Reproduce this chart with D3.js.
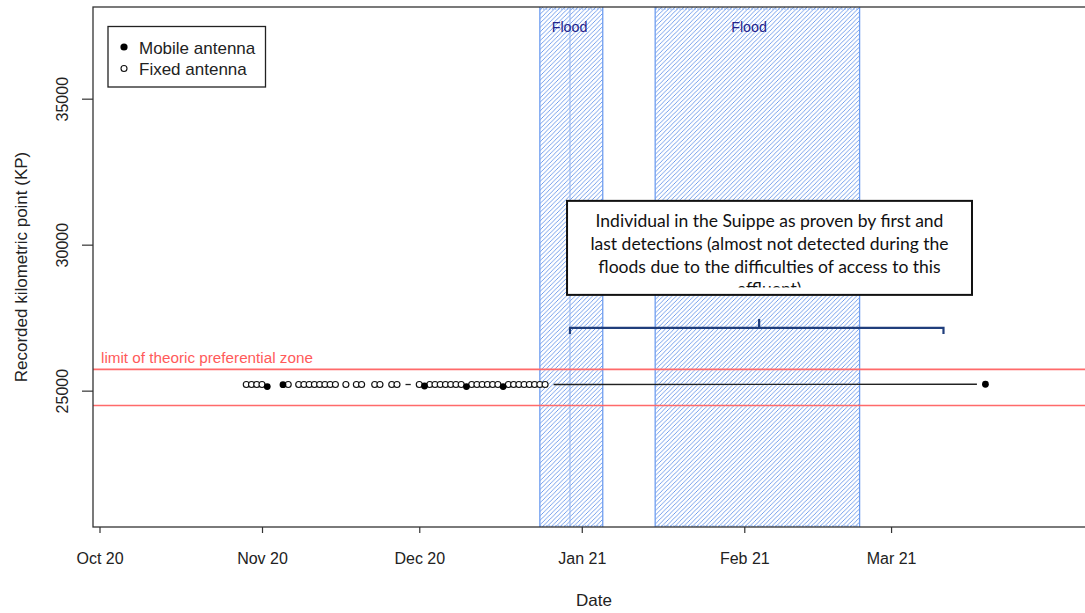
<!DOCTYPE html>
<html><head><meta charset="utf-8">
<script src="https://cdn.jsdelivr.net/npm/d3@7"></script>
<style>body{margin:0;background:#fff}svg{display:block}</style>
</head><body>
<svg id="c" width="1085" height="613"></svg>
<script>
// ---------------- data ----------------
const fixedDates = [
  "2020-10-29","2020-10-30","2020-10-31","2020-11-01",
  "2020-11-06",
  "2020-11-08","2020-11-09","2020-11-10","2020-11-11","2020-11-12","2020-11-13","2020-11-14","2020-11-15",
  "2020-11-17","2020-11-19","2020-11-20",
  "2020-11-22T12:00:00Z","2020-11-23T12:00:00Z","2020-11-25T18:00:00Z","2020-11-26T18:00:00Z",
  "2020-12-01",
  "2020-12-03","2020-12-04","2020-12-05","2020-12-06","2020-12-07","2020-12-08","2020-12-09",
  "2020-12-11","2020-12-12","2020-12-13","2020-12-14","2020-12-15","2020-12-16",
  "2020-12-18","2020-12-19","2020-12-20","2020-12-21","2020-12-22","2020-12-23","2020-12-24","2020-12-25"
];
const fixedKP = [
  25210,25210,25210,25210,
  25210,
  25210,25210,25210,25210,25210,25210,25210,25210,
  25210,25210,25210,
  25210,25210,25210,25210,
  25210,
  25210,25210,25210,25210,25210,25210,25210,
  25210,25210,25210,25210,25210,25210,
  25210,25210,25210,25210,25210,25210,25210,25210
];
const mobileDates = ["2020-11-02","2020-11-05","2020-12-02","2020-12-10","2020-12-17","2021-03-19"];
const mobileKP    = [25140, 25205, 25160, 25140, 25140, 25220];

const floodStart = ["2020-12-24","2021-01-15"];
const floodEnd   = ["2021-01-05","2021-02-23"];
const floodLabels = ["Flood","Flood"];
const floodLabelDates = ["2020-12-29T16:00:00Z","2021-02-01T22:00:00Z"];

const zoneLimits = [24490, 25730];
const zoneLabel = "limit of theoric preferential zone";

const xTickDates = ["2020-10-01","2020-11-01","2020-12-01","2021-01-01","2021-02-01","2021-03-01"];
const yTicks = [25000, 30000, 35000];

const legendLabels = ["Mobile antenna","Fixed antenna"];
const noteLines = [
  "Individual in the Suippe as proven by first and",
  "last detections (almost not detected during the",
  "floods due to the difficulties of access to this",
  "affluent)"
];
// annotation anchors in data units
const noteBoxDates = ["2020-12-29T04:30:00Z","2021-03-16T10:30:00Z"];
const noteBoxKP = [31500, 28280];
const bracketDates = ["2020-12-29T18:00:00Z","2021-02-03T20:00:00Z","2021-03-11T00:00:00Z"];
const bracketKP = 27150;

// ---------------- setup ----------------
const P = s => new Date(s.length === 10 ? s + "T00:00:00Z" : s);
const mL = 93, mR = 1095, mT = 7, mB = 527;
const svg = d3.select("#c");
const x = d3.scaleUtc().domain([P("2020-09-29T18:14:00Z"), P("2021-04-08T21:40:00Z")]).range([mL, mR]);
const y = d3.scaleLinear().domain([20330, 38140]).range([mB, mT]);
const FONT = "'Liberation Sans', Arial, sans-serif";

const defs = svg.append("defs");
const pat = defs.append("pattern").attr("id","hatch").attr("patternUnits","userSpaceOnUse")
  .attr("width",4.4).attr("height",4.4);
pat.append("path").attr("d","M-1.1,1.1 L1.1,-1.1 M0,4.4 L4.4,0 M3.3,5.5 L5.5,3.3")
  .attr("stroke","#5d8fe8").attr("stroke-width",0.85).attr("fill","none");
defs.append("clipPath").attr("id","plotclip").append("rect")
  .attr("x",mL).attr("y",mT).attr("width",mR-mL).attr("height",mB-mT);

const plot = svg.append("g").attr("clip-path","url(#plotclip)");

// flood rectangles
const floods = floodStart.map((s,i)=>({s:P(s), e:P(floodEnd[i]), label:floodLabels[i], ld:P(floodLabelDates[i])}));
const fg = plot.selectAll("g.flood").data(floods).join("g").attr("class","flood");
fg.append("rect").attr("x",d=>x(d.s)).attr("y",mT).attr("width",d=>x(d.e)-x(d.s)).attr("height",mB-mT)
  .attr("fill","url(#hatch)");
fg.append("line").attr("x1",d=>x(d.s)).attr("x2",d=>x(d.s)).attr("y1",mT).attr("y2",mB)
  .attr("stroke","#6f9ef0").attr("stroke-width",1.3);
fg.append("line").attr("x1",d=>x(d.e)).attr("x2",d=>x(d.e)).attr("y1",mT).attr("y2",mB)
  .attr("stroke","#6f9ef0").attr("stroke-width",1.3);
fg.append("line").attr("x1",d=>x(d.s)).attr("x2",d=>x(d.e)).attr("y1",mT+2).attr("y2",mT+2)
  .attr("stroke","#6f9ef0").attr("stroke-width",1.2).attr("stroke-dasharray","1.5,1.5");
fg.append("line").attr("x1",d=>x(d.s)).attr("x2",d=>x(d.e)).attr("y1",mB-1).attr("y2",mB-1)
  .attr("stroke","#6f9ef0").attr("stroke-width",1.2).attr("stroke-dasharray","1.5,1.5");

// faint connector line at bracket start
plot.append("line").attr("x1",x(P(bracketDates[0]))).attr("x2",x(P(bracketDates[0])))
  .attr("y1",mT).attr("y2",mB).attr("stroke","#8fb2f0").attr("stroke-width",1);

// zone limits
plot.selectAll("line.zone").data(zoneLimits).join("line").attr("class","zone")
  .attr("x1",mL).attr("x2",mR).attr("y1",d=>y(d)).attr("y2",d=>y(d))
  .attr("stroke","#ff6a6a").attr("stroke-width",1.6);
const zl = svg.append("text").attr("x",mL+8).attr("y",y(d3.max(zoneLimits))-6.5)
  .attr("fill","#ff5a5a").attr("font-family",FONT).attr("font-size",15).text(zoneLabel);

// type="b" style connecting segments
const pts = fixedDates.map((d,i)=>({t:P(d), v:fixedKP[i], m:false}))
  .concat(mobileDates.map((d,i)=>({t:P(d), v:mobileKP[i], m:true})))
  .sort((a,b)=>a.t-b.t);
const gap = 8.5, segs = [];
for (let i=1;i<pts.length;i++){
  const x1=x(pts[i-1].t), y1=y(pts[i-1].v), x2=x(pts[i].t), y2=y(pts[i].v);
  const dx=x2-x1, dy=y2-y1, L=Math.hypot(dx,dy);
  if (L > 2*gap) segs.push({x1:x1+dx/L*gap, y1:y1+dy/L*gap, x2:x2-dx/L*gap, y2:y2-dy/L*gap});
}
plot.selectAll("line.seg").data(segs).join("line").attr("class","seg")
  .attr("x1",d=>d.x1).attr("y1",d=>d.y1).attr("x2",d=>d.x2).attr("y2",d=>d.y2)
  .attr("stroke","#222").attr("stroke-width",1.3);

plot.selectAll("circle.fixed").data(pts.filter(p=>!p.m)).join("circle").attr("class","fixed")
  .attr("cx",d=>x(d.t)).attr("cy",d=>y(d.v)).attr("r",3)
  .attr("fill","#fff").attr("stroke","#111").attr("stroke-width",1.15);
plot.selectAll("circle.mobile").data(pts.filter(p=>p.m)).join("circle").attr("class","mobile")
  .attr("cx",d=>x(d.t)).attr("cy",d=>y(d.v)).attr("r",3.4).attr("fill","#000");

// frame
svg.append("rect").attr("x",mL).attr("y",mT).attr("width",mR-mL).attr("height",mB-mT)
  .attr("fill","none").attr("stroke","#333").attr("stroke-width",1.3);

// x axis
const xa = svg.append("g").attr("transform",`translate(0,${mB})`)
  .call(d3.axisBottom(x).tickValues(xTickDates.map(P)).tickFormat(d3.utcFormat("%b %y")).tickSize(6).tickPadding(20));
xa.select(".domain").remove();
xa.selectAll("line").attr("stroke","#333").attr("stroke-width",1.2);
xa.selectAll("text").attr("font-family",FONT).attr("font-size",16).attr("fill","#222");

// y axis
const ya = svg.append("g").attr("transform",`translate(${mL},0)`)
  .call(d3.axisLeft(y).tickValues(yTicks).tickFormat(d3.format("d")).tickSize(11));
ya.select(".domain").remove();
ya.selectAll("line").attr("stroke","#333").attr("stroke-width",1.2);
ya.selectAll("text").attr("font-family",FONT).attr("font-size",16).attr("fill","#222")
  .attr("x",null).attr("dy","0.35em").attr("text-anchor","middle")
  .attr("transform",`translate(${62-mL},0) rotate(-90)`);

// axis titles
svg.append("text").attr("x",(mL+mR)/2).attr("y",600).attr("dy","0.35em").attr("text-anchor","middle")
  .attr("font-family",FONT).attr("font-size",17).attr("fill","#222").text("Date");
svg.append("text").attr("transform",`translate(21,${(mT+mB)/2}) rotate(-90)`).attr("dy","0.35em")
  .attr("text-anchor","middle").attr("font-family",FONT).attr("font-size",17).attr("fill","#222")
  .text("Recorded kilometric point (KP)");

// legend
const lg = svg.append("g");
lg.append("rect").attr("x",108).attr("y",26.5).attr("width",157.5).attr("height",60.5)
  .attr("fill","#fff").attr("stroke","#222").attr("stroke-width",1.3);
lg.append("circle").attr("cx",124).attr("cy",47).attr("r",3.6).attr("fill","#000");
lg.append("circle").attr("cx",124).attr("cy",68.5).attr("r",3).attr("fill","#fff").attr("stroke","#111").attr("stroke-width",1.1);
lg.selectAll("text").data(legendLabels).join("text").attr("x",139).attr("y",(d,i)=>48+i*21.5).attr("dy","0.35em")
  .attr("font-family",FONT).attr("font-size",17).attr("fill","#222").text(d=>d);

// flood labels
svg.selectAll("text.fl").data(floods).join("text").attr("class","fl")
  .attr("x",d=>x(d.ld)).attr("y",27).attr("dy","0.35em").attr("text-anchor","middle")
  .attr("font-family",FONT).attr("font-size",14.3).attr("fill","#23238c").text(d=>d.label);

// annotation box
const bx0 = x(P(noteBoxDates[0])), bx1 = x(P(noteBoxDates[1]));
const by0 = y(noteBoxKP[0]), by1 = y(noteBoxKP[1]);
defs.append("clipPath").attr("id","noteclip").append("rect")
  .attr("x",bx0).attr("y",by0).attr("width",bx1-bx0).attr("height",by1-by0-7.5);
svg.append("rect").attr("x",bx0).attr("y",by0).attr("width",bx1-bx0).attr("height",by1-by0)
  .attr("fill","#fff").attr("stroke","#111").attr("stroke-width",2);
const ng = svg.append("g").attr("clip-path","url(#noteclip)");
const nt = ng.selectAll("text").data(noteLines).join("text")
  .attr("x",(bx0+bx1)/2).attr("y",(d,i)=>227.3+i*22.6).attr("text-anchor","middle")
  .attr("font-family","Lato, 'Open Sans', sans-serif").attr("font-size",16).attr("fill","#111").text(d=>d);
const w0 = nt.node().getComputedTextLength();
if (w0>0) nt.attr("font-size",16*348/w0);

// bracket
const bxa = x(P(bracketDates[0])), bxm = x(P(bracketDates[1])), bxb = x(P(bracketDates[2])), byy = y(bracketKP);
svg.append("path").attr("d",`M${bxa},${byy+6}V${byy}H${bxb}V${byy+6}M${bxm},${byy}V${byy-9}`)
  .attr("fill","none").attr("stroke","#203e7c").attr("stroke-width",2.2);

// fit a text to its measured width
const zw = zl.node().getComputedTextLength(); if (zw>0) zl.attr("font-size",15*212/zw);
</script>
</body></html>
